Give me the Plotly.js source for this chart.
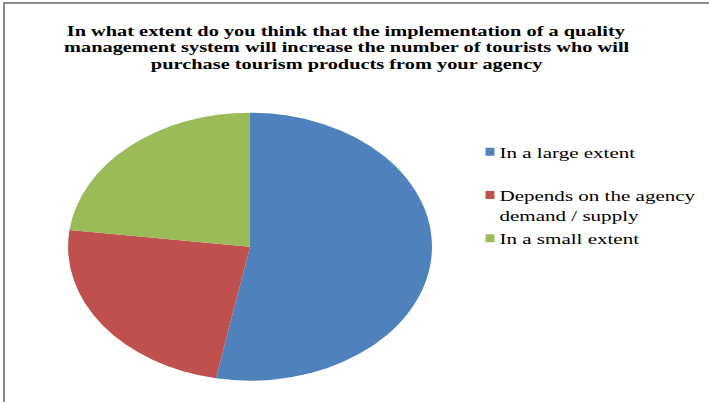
<!DOCTYPE html>
<html>
<head>
<meta charset="utf-8">
<script src="https://cdn.plot.ly/plotly-3.0.1.min.js"></script>
<style>
  html, body { margin: 0; padding: 0; background: #ffffff; overflow: hidden; }
  #wrap { position: relative; width: 709px; height: 402px; overflow: hidden; }
  #chart { position: absolute; left: 0; top: 0; width: 522px; height: 402px;
           transform: scaleX(1.358); transform-origin: 0 0; }
  #frame { position: absolute; left: 3px; top: 2px; width: 710px; height: 410px;
           border-left: 2px solid #8a8a8a; border-top: 2px solid #8a8a8a;
           pointer-events: none; z-index: 5; }
</style>
</head>
<body>
<div id="wrap">
  <div id="chart"></div>
  <div id="frame"></div>
</div>
<script>
// ---- data ----
const titleLines = [
  'In what extent do you think that the implementation of a quality',
  'management system will increase the number of tourists who will',
  'purchase tourism products from your agency'
];
const categories = [
  'In a large extent',
  'Depends on the agency<br>demand / supply',
  'In a small extent'
];
const values = [53, 24, 23];
const colors = ['#4F81BD', '#C0504D', '#9BBB59'];

// ---- chart ----
const serif = '"Liberation Serif", "Times New Roman", Times, serif';

// pad one-line legend entries (except last) so entries are evenly spaced
const legendLabels = categories.map((c, i) =>
  (i < categories.length - 1 && c.indexOf('<br>') < 0) ? c + '<br>&nbsp;' : c);

const trace = {
  type: 'pie',
  labels: legendLabels,
  values: values,
  marker: { colors: colors, line: { width: 0 } },
  sort: false,
  direction: 'clockwise',
  rotation: 0,
  textinfo: 'none',
  hoverinfo: 'none',
  domain: { x: [0.0960, 0.6094], y: [0.0530, 0.7197] }
};

const titleY = [0.9239, 0.8826, 0.8411];
const annotations = titleLines.map((t, i) => ({
  text: '<b>' + t + '</b>',
  xref: 'paper', yref: 'paper',
  x: 0.489, y: titleY[i],
  xanchor: 'center', yanchor: 'middle',
  showarrow: false,
  font: { family: serif, size: 15, color: '#000000' }
}));

const layout = {
  width: 522,
  height: 402,
  autosize: false,
  margin: { l: 0, r: 0, t: 0, b: 0 },
  paper_bgcolor: '#ffffff',
  plot_bgcolor: '#ffffff',
  showlegend: true,
  legend: {
    x: 0.628, xanchor: 'left',
    y: 0.664, yanchor: 'top',
    valign: 'top',
    bgcolor: 'rgba(0,0,0,0)',
    font: { family: serif, size: 15.5, color: '#000000' }
  },
  annotations: annotations
};

Plotly.newPlot('chart', [trace], layout, { displayModeBar: false, staticPlot: true }).then(function (gd) {
  // smaller legend keys placed close to their text, like the reference
  gd.querySelectorAll('.legendpoints path').forEach(function (p) {
    p.setAttribute('d', 'M3.3,4H-3.3V-4H3.3Z');
    p.setAttribute('transform', 'translate(33,0)');
  });
});
</script>
</body>
</html>
